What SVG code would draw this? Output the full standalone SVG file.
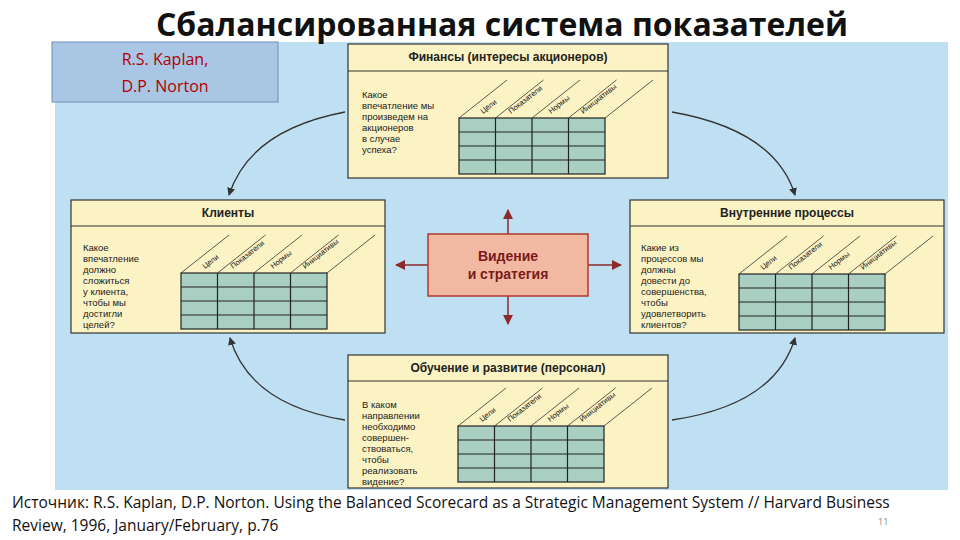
<svg xmlns="http://www.w3.org/2000/svg" xmlns:xlink="http://www.w3.org/1999/xlink" width="960" height="540" viewBox="0 0 960 540">
<style>
.box{fill:#fbf3c4;stroke:#333;stroke-width:1.2}
.hd{font-family:"Liberation Sans",Arial,sans-serif;font-weight:bold;font-size:12px;fill:#222;text-anchor:middle}
.q{font-family:"Liberation Sans",Arial,sans-serif;font-size:9.5px;fill:#222}
.cl{font-family:"Liberation Sans",Arial,sans-serif;font-size:7.5px;fill:#222}
.cur{fill:none;stroke:#333;stroke-width:1.3}
.ra{stroke:#8b2a2a;stroke-width:1.5}
.ft{font-family:"Open Sans",sans-serif;font-size:15.5px;fill:#111}
</style>
<defs>
<marker id="ah" markerWidth="8" markerHeight="8" refX="7" refY="4" orient="auto" markerUnits="userSpaceOnUse"><path d="M0,0 L8,4 L0,8 Z" fill="#333"/></marker>
<marker id="rh" markerWidth="10" markerHeight="10" refX="9" refY="5" orient="auto" markerUnits="userSpaceOnUse"><path d="M0,0 L10,5 L0,10 Z" fill="#8b2a2a"/></marker>
<g id="tbl">
<rect x="0" y="0" width="146" height="56" fill="#a9cfc2" stroke="#222" stroke-width="1.2"/>
<path d="M36.5,0V56M73,0V56M109.5,0V56M0,14H146M0,28H146M0,42H146" stroke="#222" stroke-width="1.2"/>
<path d="M0,0l48,-38M36.5,0l48,-38M73,0l48,-38M109.5,0l48,-38M146,0l48,-38" stroke="#333" stroke-width="0.8"/>
<text class="cl" transform="translate(24,-4) rotate(-38)">Цели</text>
<text class="cl" transform="translate(52,-4) rotate(-38)">Показатели</text>
<text class="cl" transform="translate(92,-4) rotate(-38)">Нормы</text>
<text class="cl" transform="translate(124,-4) rotate(-38)">Инициативы</text>
</g>
</defs>
<rect width="960" height="540" fill="#fff"/>
<rect x="55" y="42" width="893" height="448" fill="#bfe0f2"/>
<text x="502" y="36" font-family="Open Sans,sans-serif" font-weight="bold" font-size="32" text-anchor="middle" fill="#111">Сбалансированная система показателей</text>
<g id="author">
<rect x="52" y="42" width="226" height="60" fill="#a9c6e4" stroke="#6b8fb8" stroke-width="1"/>
<text x="165" y="65" font-family="Open Sans,sans-serif" font-size="16" text-anchor="middle" fill="#b00000">R.S. Kaplan,</text>
<text x="165" y="92" font-family="Open Sans,sans-serif" font-size="16" text-anchor="middle" fill="#b00000">D.P. Norton</text>
</g>
<g id="connectors">
<path class="cur" d="M345,112 Q250,130 229,195" marker-end="url(#ah)"/>
<path class="cur" d="M672,112 Q775,130 795,195" marker-end="url(#ah)"/>
<path class="cur" d="M345,420 Q250,405 230,338" marker-end="url(#ah)"/>
<path class="cur" d="M672,420 Q775,405 795,338" marker-end="url(#ah)"/>
<line class="ra" x1="508" y1="234" x2="508" y2="210" marker-end="url(#rh)"/>
<line class="ra" x1="508" y1="296" x2="508" y2="324" marker-end="url(#rh)"/>
<line class="ra" x1="428" y1="265" x2="396" y2="265" marker-end="url(#rh)"/>
<line class="ra" x1="588" y1="265" x2="621" y2="265" marker-end="url(#rh)"/>
</g>
<g id="finance">
<rect class="box" x="348" y="44" width="320" height="134"/>
<line x1="348" y1="71" x2="668" y2="71" stroke="#333"/>
<text class="hd" x="508" y="61">Финансы (интересы акционеров)</text>
<text class="q" x="362" y="98">Какое<tspan x="362" dy="11">впечатление мы</tspan><tspan x="362" dy="11">произведем на</tspan><tspan x="362" dy="11">акционеров</tspan><tspan x="362" dy="11">в случае</tspan><tspan x="362" dy="11">успеха?</tspan></text>
<use xlink:href="#tbl" href="#tbl" x="459" y="118"/>
</g>
<g id="clients">
<rect class="box" x="71" y="200" width="314" height="133"/>
<line x1="71" y1="226" x2="385" y2="226" stroke="#333"/>
<text class="hd" x="228" y="217">Клиенты</text>
<text class="q" x="83" y="251">Какое<tspan x="83" dy="11">впечатление</tspan><tspan x="83" dy="11">должно</tspan><tspan x="83" dy="11">сложиться</tspan><tspan x="83" dy="11">у клиента,</tspan><tspan x="83" dy="11">чтобы мы</tspan><tspan x="83" dy="11">достигли</tspan><tspan x="83" dy="11">целей?</tspan></text>
<use xlink:href="#tbl" href="#tbl" x="181" y="273"/>
</g>
<g id="internal">
<rect class="box" x="630" y="200" width="314" height="133"/>
<line x1="630" y1="226" x2="944" y2="226" stroke="#333"/>
<text class="hd" x="787" y="217">Внутренние процессы</text>
<text class="q" x="641" y="251">Какие из<tspan x="641" dy="11">процессов мы</tspan><tspan x="641" dy="11">должны</tspan><tspan x="641" dy="11">довести до</tspan><tspan x="641" dy="11">совершенства,</tspan><tspan x="641" dy="11">чтобы</tspan><tspan x="641" dy="11">удовлетворить</tspan><tspan x="641" dy="11">клиентов?</tspan></text>
<use xlink:href="#tbl" href="#tbl" x="739" y="274"/>
</g>
<g id="learning">
<rect class="box" x="348" y="355" width="320" height="133"/>
<line x1="348" y1="381" x2="668" y2="381" stroke="#333"/>
<text class="hd" x="508" y="372">Обучение и развитие (персонал)</text>
<text class="q" x="362" y="408">В каком<tspan x="362" dy="11">направлении</tspan><tspan x="362" dy="11">необходимо</tspan><tspan x="362" dy="11">совершен-</tspan><tspan x="362" dy="11">ствоваться,</tspan><tspan x="362" dy="11">чтобы</tspan><tspan x="362" dy="11">реализовать</tspan><tspan x="362" dy="11">видение?</tspan></text>
<use xlink:href="#tbl" href="#tbl" x="458" y="426"/>
</g>
<g id="vision">
<rect x="428" y="234" width="160" height="62" fill="#f2b9a2" stroke="#b03a2a" stroke-width="1.5"/>
<text x="508" y="261" font-family="Liberation Sans,Arial,sans-serif" font-weight="bold" font-size="14" text-anchor="middle" fill="#7a1a1a">Видение</text>
<text x="508" y="279" font-family="Liberation Sans,Arial,sans-serif" font-weight="bold" font-size="14" text-anchor="middle" fill="#7a1a1a">и стратегия</text>
</g>
<text class="ft" x="12" y="508">Источник: R.S. Kaplan, D.P. Norton. Using the Balanced Scorecard as a Strategic Management System // Harvard Business</text>
<text class="ft" x="12" y="531">Review, 1996, January/February, p.76</text>
<text x="878" y="525" font-family="Open Sans,sans-serif" font-size="9" fill="#888">11</text>
</svg>
